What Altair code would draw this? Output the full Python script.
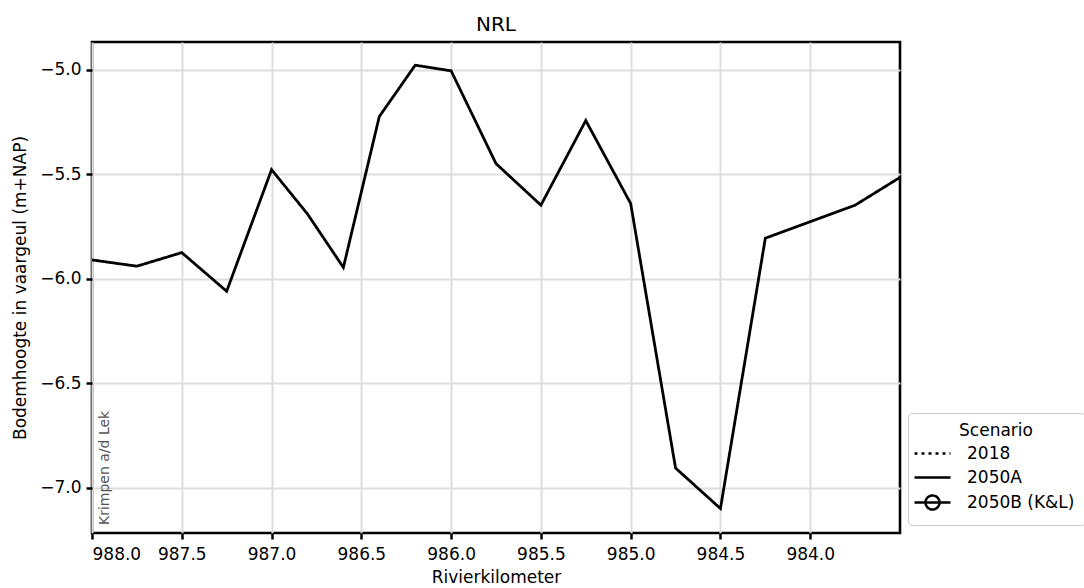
import altair as alt
import pandas as pd

# River kilometre positions along the fairway and bed level (m+NAP), scenario 2050A
km = [988.0, 987.75, 987.5, 987.25, 987.0, 986.8, 986.6, 986.4, 986.2, 986.0,
      985.75, 985.5, 985.25, 985.0, 984.75, 984.5, 984.25, 984.0, 983.75, 983.5]
bodem_2050a = [-5.91, -5.94, -5.875, -6.06, -5.478, -5.69, -5.946, -5.224, -4.978, -5.005,
               -5.449, -5.648, -5.243, -5.64, -6.906, -7.10, -5.806, -5.727, -5.648, -5.515]

scenarios = ["2018", "2050A", "2050B (K&L)"]
x_ticks = [988.0, 987.5, 987.0, 986.5, 986.0, 985.5, 985.0, 984.5, 984.0]
y_ticks = [-7.0, -6.5, -6.0, -5.5, -5.0]
x_limits = [983.5, 988.0]
y_limits = [-7.217, -4.867]

# location marker text
place_names = ["Krimpen a/d Lek"]
place_km = [988.0]
place_level = [y_limits[0]]

FONT = "DejaVu Sans"

df = pd.DataFrame({"km": km, "bodem": bodem_2050a, "Scenario": "2050A"})
places = pd.DataFrame({"km": place_km, "bodem": place_level, "naam": place_names})

x_enc = alt.X("km:Q",
              scale=alt.Scale(domain=x_limits, reverse=True, nice=False, zero=False),
              axis=alt.Axis(values=x_ticks, format=".1f", title="Rivierkilometer"))
y_enc = alt.Y("bodem:Q",
              scale=alt.Scale(domain=y_limits, nice=False, zero=False),
              axis=alt.Axis(values=y_ticks, format=".1f",
                            title="Bodemhoogte in vaargeul (m+NAP)"))

legend = alt.Legend(title="Scenario", orient="none", legendX=816, legendY=371)

# legend glyphs: plain line, and a line through an open circle
line_path = "M-1.8,0H1.8"
circle_path = "M-1.8,0H1.8M0.7,0A0.7,0.7,0,1,1,-0.7,0A0.7,0.7,0,1,1,0.7,0"

lines = alt.Chart(df).mark_line(color="black", strokeWidth=2.8, clip=True).encode(
    x=x_enc,
    y=y_enc,
    strokeDash=alt.StrokeDash("Scenario:N",
                              scale=alt.Scale(domain=scenarios,
                                              range=[[3, 4], [1, 0], [1, 0]]),
                              legend=legend),
)

markers = alt.Chart(df).transform_filter(
    alt.datum.Scenario == "2050B (K&L)"
).mark_point(filled=False, color="black", strokeWidth=2.5, size=100, opacity=1).encode(
    x=x_enc,
    y=y_enc,
    shape=alt.Shape("Scenario:N",
                    scale=alt.Scale(domain=scenarios,
                                    range=[line_path, line_path, circle_path]),
                    legend=legend),
)

label = alt.Chart(places).mark_text(
    angle=270, align="left", baseline="alphabetic", dx=8, dy=17,
    font=FONT, fontSize=14, color="#555555",
).encode(
    x=alt.X("km:Q", scale=alt.Scale(domain=x_limits, reverse=True, nice=False, zero=False)),
    y=alt.Y("bodem:Q", scale=alt.Scale(domain=y_limits, nice=False, zero=False)),
    text="naam:N",
)

chart = alt.layer(lines, markers, label).properties(
    width=808,
    height=491,
    title=alt.Title("NRL", font=FONT, fontSize=20, fontWeight="normal", color="black",
                    anchor="middle", baseline="alphabetic", offset=12, dy=21),
    padding={"left": 92, "top": 42, "right": 184, "bottom": 55},
    autosize=alt.AutoSizeParams(type="none"),
).configure_view(
    stroke="black", strokeWidth=2.6,
).configure_axis(
    labelFont=FONT, labelFontSize=17, labelColor="black",
    titleFont=FONT, titleFontSize=17, titleFontWeight="normal", titleColor="black",
    domain=False, tickColor="black", tickSize=6, tickWidth=2.5,
    grid=True, gridColor="#dddddd", gridWidth=2,
).configure_axisX(
    labelPadding=7, titlePadding=7,
).configure_axisY(
    labelPadding=5, titlePadding=10,
).configure_legend(
    titleFont=FONT, titleFontSize=17, titleFontWeight="normal", titleColor="black",
    titleAnchor="middle", titlePadding=2,
    labelFont=FONT, labelFontSize=17, labelColor="black", labelOffset=23,
    padding=10, cornerRadius=4, strokeColor="#cccccc", fillColor="white",
    symbolSize=400, symbolStrokeWidth=2.5, symbolStrokeColor="black",
    symbolFillColor="transparent", symbolOpacity=1, symbolOffset=3, rowPadding=4,
)

chart.save("out.html", embed_options={"renderer": "svg", "actions": False})
